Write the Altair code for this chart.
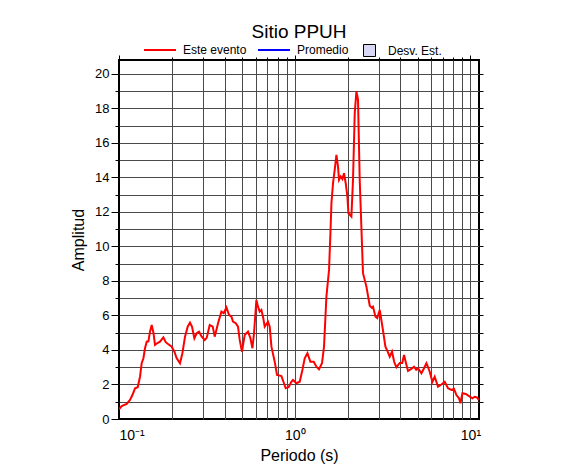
import altair as alt
import pandas as pd

# ---- data ----
periodo = [0.1000, 0.1036, 0.1106, 0.1155, 0.1192, 0.1234, 0.1278, 0.1317, 0.1346, 0.1377,
           0.1406, 0.1438, 0.1470, 0.1501, 0.1535, 0.1570, 0.1603, 0.1654, 0.1711, 0.1789,
           0.1844, 0.1910, 0.1995, 0.2067, 0.2130, 0.2224, 0.2295, 0.2375, 0.2460, 0.2535,
           0.2602, 0.2685, 0.2768, 0.2853, 0.2956, 0.3075, 0.3156, 0.3283, 0.3415, 0.3505,
           0.3661, 0.3827, 0.3944, 0.4086, 0.4228, 0.4363, 0.4455, 0.4616, 0.4757, 0.4864,
           0.5013, 0.5193, 0.5423, 0.5597, 0.5746, 0.5867, 0.6053, 0.6181, 0.6320, 0.6463,
           0.6600, 0.6749, 0.7047, 0.7207, 0.7370, 0.7694, 0.7930, 0.8400, 0.8887, 0.9244,
           0.9577, 0.9779, 1.0226, 1.0677, 1.106, 1.140, 1.181, 1.228, 1.283, 1.329,
           1.375, 1.430, 1.468, 1.515, 1.568, 1.597, 1.618, 1.652, 1.689, 1.727,
           1.764, 1.787, 1.827, 1.868, 1.908, 1.951, 1.995, 2.021, 2.102, 2.147,
           2.196, 2.245, 2.292, 2.344, 2.447, 2.559, 2.673, 2.744, 2.791, 2.880,
           2.949, 3.046, 3.156, 3.283, 3.383, 3.473, 3.579, 3.684, 3.792, 3.960,
           4.092, 4.190, 4.283, 4.414, 4.604, 4.775, 4.915, 5.033, 5.262, 5.445,
           5.618, 5.737, 5.866, 6.077, 6.263, 6.539, 6.837, 7.140, 7.456, 7.796,
           8.066, 8.324, 8.612, 8.772, 9.004, 9.404, 9.818, 10.26, 10.58, 10.90,
           11.19]
amplitud = [0.56, 0.75, 0.87, 1.10, 1.39, 1.78, 1.84, 2.45, 3.23, 3.52,
            4.10, 4.48, 4.50, 5.06, 5.45, 5.00, 4.29, 4.40, 4.48, 4.73,
            4.45, 4.33, 4.19, 3.90, 3.52, 3.23, 3.81, 4.77, 5.35, 5.58,
            5.35, 4.68, 4.97, 5.06, 4.77, 4.58, 4.70, 5.45, 5.35, 4.77,
            5.55, 6.22, 6.13, 6.47, 6.03, 5.93, 5.64, 5.55, 5.35, 4.58,
            3.90, 4.87, 5.06, 4.68, 4.10, 4.97, 6.90, 6.51, 6.22, 6.32,
            5.93, 5.35, 5.64, 5.35, 4.19, 3.32, 2.55, 2.49, 1.78, 1.85,
            2.16, 2.26, 2.07, 2.16, 2.84, 3.52, 3.81, 3.32, 3.32, 3.03,
            2.88, 3.23, 4.19, 7.09, 8.64, 10.77, 12.50, 13.66, 14.43, 15.30,
            14.62, 13.86, 14.05, 13.90, 14.24, 13.66, 12.89, 11.92, 11.73, 13.86,
            17.72, 18.98, 18.50, 13.86, 8.45, 7.67, 6.56, 6.45, 6.51, 5.93,
            5.85, 6.32, 5.35, 4.19, 3.90, 3.61, 3.90, 3.30, 3.00, 3.25,
            3.25, 3.71, 3.30, 2.78, 2.90, 3.03, 2.85, 2.94, 2.65, 2.94,
            3.23, 3.00, 2.74, 2.16, 2.45, 1.87, 2.00, 2.16, 1.78, 1.68,
            1.75, 1.39, 1.20, 0.91, 1.49, 1.45, 1.33, 1.20, 1.29, 1.25,
            1.10]
assert len(periodo) == len(amplitud)

titulo = "Sitio PPUH"
series = ["Este evento", "Promedio"]
colores_series = ["#ff0000", "#0000ff"]
banda = ["Desv. Est."]
color_banda = ["#d8d8f6"]

x_dominio = [0.1, 11.19]
y_dominio = [0, 20.8]
x_mayores = [0.1, 1, 10]
x_menores = [0.2, 0.3, 0.4, 0.5, 0.6, 0.7, 0.8, 0.9, 2, 3, 4, 5, 6, 7, 8, 9]
y_mayores = list(range(0, 21, 2))
y_menores = list(range(1, 21, 2))
y_todos = list(range(1, 21))

FONT = "Liberation Sans"
GRID = "#4a4a4a"

df = pd.DataFrame({"periodo": periodo, "amplitud": amplitud})
df["serie"] = series[0]
df["banda"] = banda[0]

xs = alt.Scale(type="log", domain=x_dominio, nice=False)
ys = alt.Scale(domain=y_dominio, nice=False, zero=False)

base = alt.Chart(df)

# grid layer: minor x grid + top minor ticks; y grid + right ticks; fill legend
grid = base.mark_square(opacity=0, stroke="black", strokeWidth=1).encode(
    x=alt.X("periodo:Q", scale=xs, axis=alt.Axis(
        orient="top", values=x_menores + [1, 10], grid=True, gridColor=GRID,
        gridWidth=1, gridOpacity=1, labels=False, ticks=True, tickSize=3,
        tickColor="black", domain=False, title=None)),
    y=alt.Y("amplitud:Q", scale=ys, axis=alt.Axis(
        orient="right", values=y_todos, grid=True, gridColor=GRID, gridWidth=1,
        gridOpacity=1, labels=False, ticks=True, tickSize=4, tickColor="black",
        domain=False, title=None)),
    fill=alt.Fill("banda:N", scale=alt.Scale(domain=banda, range=color_banda),
                  legend=alt.Legend(orient="none", legendX=244, legendY=-16,
                                    title=None, symbolType="square", symbolSize=144,
                                    symbolStrokeColor="black", symbolStrokeWidth=1,
                                    symbolOpacity=1, labelFontSize=12,
                                    labelOffset=12, labelFont=FONT)),
)

# extra ticks: top major x ticks, left minor y ticks
ticks = base.mark_point(opacity=0).encode(
    x=alt.X("periodo:Q", scale=xs, axis=alt.Axis(
        orient="top", values=x_mayores, grid=False, labels=False, ticks=True,
        tickSize=5, tickColor="black", domain=False, title=None)),
    y=alt.Y("amplitud:Q", scale=ys, axis=alt.Axis(
        orient="left", values=y_menores, grid=False, labels=False, ticks=True,
        tickSize=4, tickColor="black", domain=False, title=None)),
)

label_expr = ("datum.value < 0.5 ? '10\u207b\u00b9' : "
              "(datum.value < 5 ? '10\u2070' : '10\u00b9')")

line = base.mark_line(strokeWidth=2, clip=True).encode(
    x=alt.X("periodo:Q", scale=xs, axis=alt.Axis(
        orient="bottom", values=x_mayores, labelExpr=label_expr, grid=False,
        ticks=False, domain=False, labelFontSize=14, labelPadding=9,
        labelColor="black", labelFont=FONT, title="Periodo (s)",
        titleFontSize=16, titleFontWeight="normal", titleFont=FONT,
        titleColor="black", titlePadding=5)),
    y=alt.Y("amplitud:Q", scale=ys, axis=alt.Axis(
        orient="left", values=y_mayores, grid=False, ticks=True, tickSize=8,
        tickColor="black", domain=False, labelFontSize=13, labelPadding=2,
        labelColor="black", labelFont=FONT, title="Amplitud",
        titleFontSize=16, titleFontWeight="normal", titleFont=FONT,
        titleColor="black", titlePadding=8)),
    color=alt.Color("serie:N", scale=alt.Scale(domain=series, range=colores_series),
                    legend=alt.Legend(orient="none", legendX=24, legendY=-27,
                                      direction="horizontal", title=None,
                                      symbolType="stroke", symbolSize=1024,
                                      symbolStrokeWidth=2, labelFontSize=12,
                                      labelOffset=6, columnPadding=7,
                                      labelFont=FONT)),
)

chart = alt.layer(grid, ticks, line).resolve_axis(
    x="independent", y="independent"
).properties(
    width=360,
    height=359,
    title=alt.TitleParams(titulo, fontSize=19, fontWeight="normal", font=FONT,
                          anchor="middle", color="black", offset=4, dy=13),
    autosize=alt.AutoSizeParams(type="none"),
    padding={"left": 111, "top": 52, "right": 90, "bottom": 50},
).configure_view(stroke="black", strokeWidth=2)

chart.save("out.html", embed_options={"renderer": "svg", "actions": False})
